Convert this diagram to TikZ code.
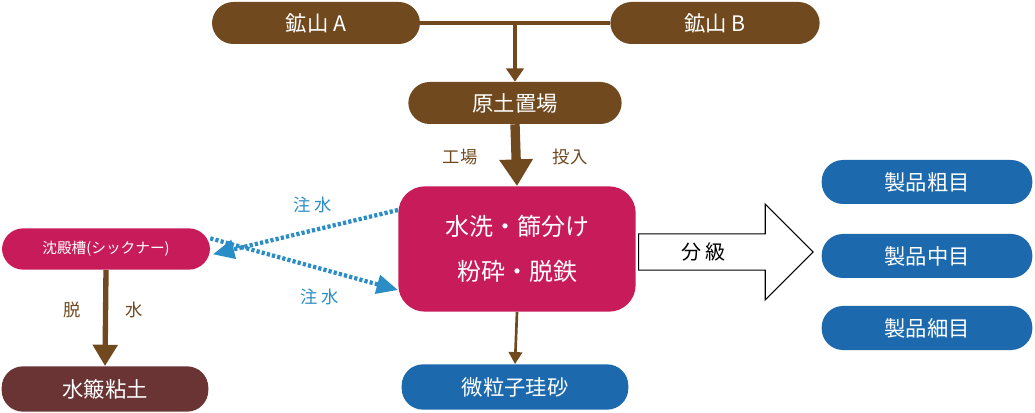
\documentclass[tikz,border=0pt]{standalone}
\usepackage{fontspec}
\setmainfont{Noto Sans CJK JP}
\usetikzlibrary{arrows.meta,shapes.arrows}
\definecolor{brn}{HTML}{70491F}
\definecolor{mag}{HTML}{C81C5A}
\definecolor{blu}{HTML}{1C69AE}
\definecolor{lblu}{HTML}{2A8DC5}
\definecolor{clay}{HTML}{6A3434}
\begin{document}
\begin{tikzpicture}[x=0.75pt,y=-0.75pt,
 pill/.style={rounded corners=16pt,text=white,font=\fontsize{16}{18}\selectfont,minimum height=31.5pt,inner sep=0pt},
 lab/.style={font=\fontsize{13}{15}\selectfont},
 dot/.style={lblu,line width=3.2pt,dash pattern=on 2.4pt off 1.6pt,-{Triangle[length=16pt,width=14pt]}}]
\useasboundingbox (0,0) rectangle (1035,413);
\node[pill,fill=brn,minimum width=156pt] (a) at (316,23) {鉱山 A};
\node[pill,fill=brn,minimum width=157pt] (b) at (715,23) {鉱山 B};
\coordinate (j) at (515,23);
\draw[brn,line width=3.5pt] (a.east) -- (b.west);
\node[pill,fill=brn,minimum width=160pt] (g) at (515,103) {原土置場};
\draw[brn,line width=3.5pt,-{Triangle[length=10pt,width=13pt]}] (j) -- (g.north);
\node[fill=mag,rounded corners=20pt,minimum width=178pt,minimum height=94pt,text=white,align=center,font=\fontsize{18}{34}\selectfont] (p) at (517,249) {水洗・篩分け\\粉砕・脱鉄};
\draw[brn,line width=7pt,-{Triangle[length=20pt,width=24pt]}] (g.south) -- (p.north);
\node[lab,text=brn] (l1) at (460,157) {工場};
\node[lab,text=brn] (l2) at (570,157) {投入};
\node[pill,fill=blu,minimum width=170pt,minimum height=34pt] (f) at (515,387) {微粒子珪砂};
\draw[brn,line width=2pt,-{Triangle[length=9pt,width=10pt]}] (p.south) -- (f.north);
\node[single arrow,draw=black,line width=0.8pt,fill=white,minimum height=131pt,minimum width=72pt,single arrow head extend=12pt,single arrow tip angle=90,inner sep=0pt,anchor=west,font=\fontsize{15}{17}\selectfont] (arr) at (638,252) {\hspace*{-20pt}分\ 級};
\node[pill,fill=blu,minimum width=158pt,minimum height=33pt] (c1) at (927,182) {製品粗目};
\node[pill,fill=blu,minimum width=158pt,minimum height=33pt] (c2) at (927,256) {製品中目};
\node[pill,fill=blu,minimum width=158pt,minimum height=33pt] (c3) at (927,328) {製品細目};
\node[pill,fill=mag,minimum width=156pt,minimum height=31pt,font=\fontsize{11}{13}\selectfont] (s) at (106,249) {沈殿槽(シックナー)};
\coordinate (d1) at (398,210);
\coordinate (d2) at (398,290);
\draw[dot] (d1) -- ([xshift=2pt,yshift=-4pt]s.east);
\draw[dot] ([xshift=0pt,yshift=8pt]s.east) -- (d2);
\node[lab,text=lblu] (w1) at (313,205) {注 水};
\node[lab,text=lblu] (w2) at (320,297) {注 水};
\node[pill,fill=clay,minimum width=155pt,minimum height=34pt] (k) at (105,389) {水簸粘土};
\draw[brn,line width=4pt,-{Triangle[length=16pt,width=18pt]}] (s.south) -- (k.north);
\node[lab,text=brn] (l3) at (72,310) {脱};
\node[lab,text=brn] (l4) at (134,310) {水};
\end{tikzpicture}
\end{document}
